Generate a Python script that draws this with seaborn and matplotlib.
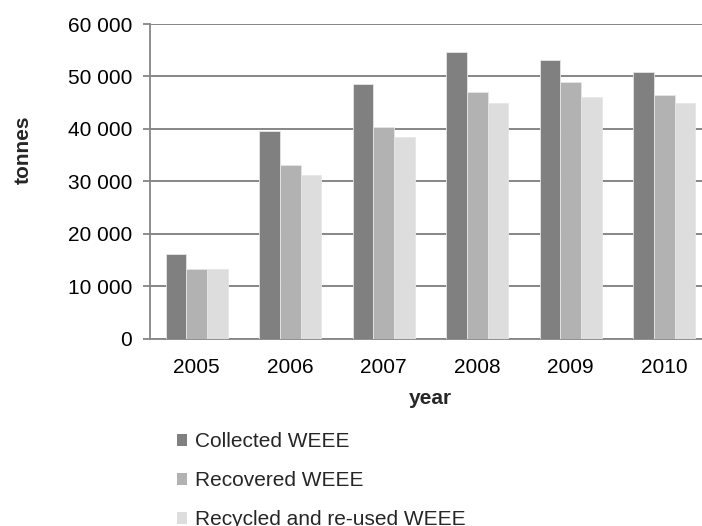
import matplotlib
matplotlib.use("Agg")
import matplotlib.pyplot as plt
import matplotlib.ticker as mticker
from matplotlib.patches import Patch
import pandas as pd
import seaborn as sns

years = ["2005", "2006", "2007", "2008", "2009", "2010"]
collected = [16100, 39600, 48600, 54600, 53100, 50800]
recovered = [13300, 33100, 40400, 47000, 48900, 46500]
recycled = [13200, 31200, 38400, 44900, 46100, 44900]
series_names = ["Collected WEEE", "Recovered WEEE", "Recycled and re-used WEEE"]
colors = ["#808080", "#b2b2b2", "#dddddd"]

df = pd.DataFrame({
    "year": years * 3,
    "series": [series_names[0]] * 6 + [series_names[1]] * 6 + [series_names[2]] * 6,
    "tonnes": collected + recovered + recycled,
})

sns.set_theme(style="white")
plt.rcParams["font.family"] = ["Liberation Sans", "DejaVu Sans"]
FS = 15
W, H = 702, 526
fig = plt.figure(figsize=(W / 100, H / 100), dpi=100)
left, right, top, bottom = 150, 711, 24, 338.5
ax = fig.add_axes([left / W, 1 - bottom / H, (right - left) / W, (bottom - top) / H])

sns.barplot(data=df, x="year", y="tonnes", hue="series", order=years,
            hue_order=series_names, palette=colors, width=0.66, gap=0,
            edgecolor="#e6e6e6", linewidth=0.6, legend=False, ax=ax, zorder=3)

grid_c = "#868686"
ax.set_ylim(0, 60000)
ax.set_xlim(-0.5, 5.5)
ax.yaxis.set_major_locator(mticker.MultipleLocator(10000))
ax.yaxis.set_major_formatter(mticker.FuncFormatter(
    lambda v, p: f"{int(round(v)):,}".replace(",", " ")))
ax.yaxis.grid(True, color=grid_c, linewidth=1.4, zorder=0)
ax.set_axisbelow(True)

for s in ["top", "right"]:
    ax.spines[s].set_visible(False)
for s in ["left", "bottom"]:
    ax.spines[s].set_color(grid_c)
    ax.spines[s].set_linewidth(1.3)

# category separators as ticks below the axis
ax.set_xticks([i - 0.5 for i in range(7)], minor=True)
ax.tick_params(axis="x", which="major", length=0, pad=14, labelsize=FS, labelcolor="#000000")
ax.tick_params(axis="x", which="minor", length=6, width=1.3, color=grid_c, direction="out")
ax.tick_params(axis="y", which="major", length=5, width=1.3, color=grid_c,
               direction="out", labelsize=FS, pad=8, labelcolor="#000000", left=True)

ax.set_xlabel("")
ax.set_ylabel("")
fig.text((left + right) / 2 / W, 1 - 398 / H, "year", ha="center", va="center",
         fontsize=FS, fontweight="bold")
fig.text(23 / W, 1 - 150 / H, "tonnes", ha="center", va="center",
         rotation=90, fontsize=FS, fontweight="bold")

handles = [Patch(facecolor=c, edgecolor="none") for c in colors]
fig.legend(handles, series_names, loc="upper left",
           bbox_to_anchor=(177 / W, 1 - 432 / H), frameon=False,
           fontsize=FS, handlelength=0.5, handleheight=0.5, handletextpad=0.35,
           labelspacing=0.96, borderpad=0, borderaxespad=0)

fig.savefig("out.png", dpi=100)
